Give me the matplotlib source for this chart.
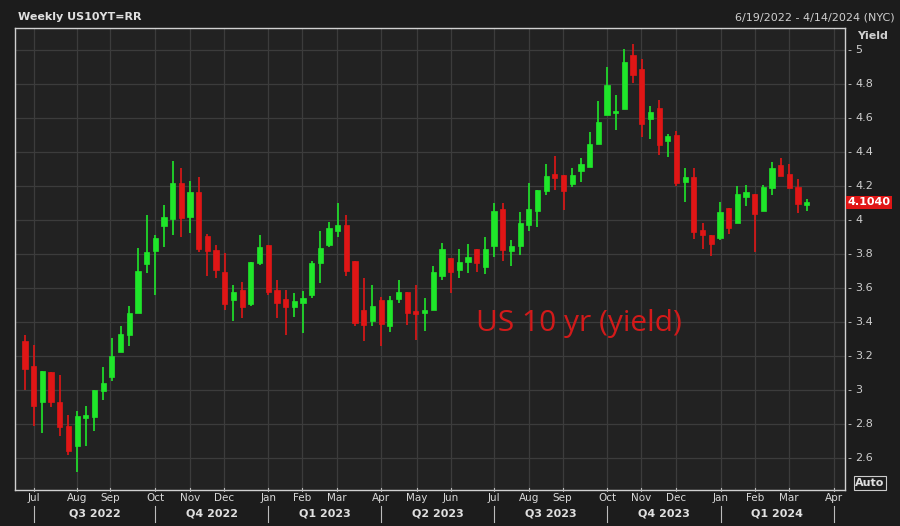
import matplotlib
matplotlib.use("Agg")
import matplotlib.pyplot as plt
from matplotlib.patches import Rectangle

opens = [3.285,3.141,2.926,3.102,2.926,2.788,2.671,2.836,2.840,2.992,3.073,3.222,3.320,3.451,3.739,3.820,3.965,4.006,4.220,4.020,
         4.167,3.906,3.824,3.696,3.526,3.588,3.506,3.749,3.853,3.585,3.534,3.487,3.510,3.559,3.745,3.853,3.937,3.971,3.759,3.471,
         3.406,3.526,3.377,3.534,3.575,3.461,3.451,3.467,3.671,3.775,3.706,3.751,3.830,3.722,3.847,4.065,3.820,3.849,3.971,4.055,
         4.173,4.269,4.265,4.212,4.290,4.314,4.445,4.618,4.632,4.651,4.971,4.886,4.594,4.661,4.465,4.500,4.226,4.251,3.941,3.912,
         3.892,4.069,3.984,4.137,4.151,4.053,4.186,4.323,4.268,4.196,4.088]
closes = [3.122,2.902,3.108,2.926,2.779,2.637,2.843,2.851,3.000,3.039,3.196,3.330,3.451,3.702,3.810,3.892,4.016,4.220,4.010,4.167,
          3.828,3.820,3.706,3.504,3.573,3.485,3.755,3.839,3.573,3.510,3.487,3.520,3.539,3.749,3.834,3.951,3.971,3.700,3.396,3.383,
          3.496,3.387,3.526,3.575,3.455,3.447,3.471,3.696,3.828,3.691,3.751,3.781,3.746,3.828,4.053,3.824,3.847,3.981,4.065,4.177,
          4.259,4.245,4.173,4.265,4.330,4.447,4.578,4.794,4.637,4.931,4.853,4.563,4.637,4.441,4.494,4.220,4.255,3.927,3.912,3.859,
          4.049,3.951,4.153,4.167,4.035,4.196,4.304,4.258,4.186,4.094,4.104]
highs = [3.324,3.265,3.108,3.102,3.088,2.853,2.873,2.906,3.000,3.133,3.304,3.373,3.494,3.834,4.030,3.912,4.088,4.349,4.304,4.232,
         4.251,3.918,3.853,3.808,3.618,3.637,3.755,3.912,3.853,3.647,3.588,3.569,3.579,3.759,3.936,3.985,4.098,4.030,3.759,3.657,
         3.618,3.549,3.553,3.647,3.575,3.618,3.540,3.726,3.863,3.775,3.828,3.859,3.830,3.898,4.102,4.098,3.879,4.049,4.220,4.177,
         4.330,4.377,4.265,4.304,4.363,4.520,4.700,4.902,4.735,5.004,5.035,4.945,4.673,4.706,4.506,4.526,4.304,4.304,3.980,3.912,
         4.108,4.069,4.202,4.206,4.151,4.206,4.339,4.362,4.329,4.239,4.123]
lows = [3.000,2.785,2.745,2.898,2.730,2.618,2.514,2.671,2.759,2.941,3.049,3.259,3.259,3.451,3.687,3.559,3.843,3.912,3.898,3.926,
        3.814,3.671,3.657,3.471,3.406,3.422,3.496,3.735,3.559,3.422,3.324,3.426,3.337,3.539,3.628,3.843,3.898,3.671,3.377,3.285,
        3.373,3.255,3.343,3.510,3.383,3.295,3.349,3.467,3.647,3.569,3.657,3.687,3.696,3.681,3.781,3.761,3.730,3.795,3.932,3.961,
        4.147,4.177,4.059,4.196,4.226,4.314,4.445,4.618,4.529,4.651,4.808,4.486,4.475,4.382,4.369,4.200,4.104,3.886,3.827,3.788,
        3.883,3.918,3.984,4.082,3.814,4.053,4.147,4.258,4.186,4.043,4.054]
month_labels = ["Jul","Aug","Sep","Oct","Nov","Dec","Jan","Feb","Mar","Apr","May","Jun",
                "Jul","Aug","Sep","Oct","Nov","Dec","Jan","Feb","Mar","Apr"]
month_pos = [1.0,6.0,9.8,15.0,19.0,22.9,28.0,31.9,35.9,41.0,45.1,49.0,54.0,58.0,61.9,67.0,70.9,74.9,80.1,84.0,87.9,93.1]
quarter_labels = ["Q3 2022","Q4 2022","Q1 2023","Q2 2023","Q3 2023","Q4 2023","Q1 2024"]
yticks = [2.6,2.8,3.0,3.2,3.4,3.6,3.8,4.0,4.2,4.4,4.6,4.8,5.0]

BG = "#1c1c1c"
fig = plt.figure(figsize=(9, 5.26), dpi=100, facecolor=BG)
ax = fig.add_axes([15/900, 1-490/526, 830/900, 462/526], facecolor="#222222")
x0 = -1.15; x1 = 94.4
ax.set_xlim(x0, x1)
ax.set_ylim(2.41, 5.13)
for s in ax.spines.values():
    s.set_color("#d0d0d0"); s.set_linewidth(1)
ax.set_yticks(yticks)
ax.set_xticks(month_pos)
ax.grid(True, color="#3c3c3c", linewidth=0.9)
ax.set_axisbelow(True)
ax.tick_params(axis="both", length=0, labelbottom=False, labelleft=False)

up, dn = "#1fe62a", "#e01616"
w = 0.6
for i, (o, c, h, l) in enumerate(zip(opens, closes, highs, lows)):
    col = up if c >= o else dn
    ax.vlines(i, l, h, color=col, linewidth=1.2, zorder=2)
    bot = min(o, c); ht = max(abs(c - o), 0.008)
    ax.add_patch(Rectangle((i - w/2, bot), w, ht, facecolor=col, edgecolor=col, linewidth=0.5, zorder=3))

for v in yticks:
    ax.text(1.003, v, "-", transform=ax.get_yaxis_transform(), color="#cfcfcf", fontsize=8, va="center")
    ax.text(1.012, v, ("%g" % v), transform=ax.get_yaxis_transform(), color="#cfcfcf", fontsize=8, va="center")
fig.text(857/900, 1-36/526, "Yield", color="#cfcfcf", fontsize=8, fontweight="bold", va="center")
ax.text(1.003, closes[-1], "4.1040", transform=ax.get_yaxis_transform(), color="white", fontsize=8,
        fontweight="bold", va="center", bbox=dict(boxstyle="square,pad=0.12", fc="#e01616", ec="none"))

ax.text(0.555, 0.36, "US 10 yr (yield)", transform=ax.transAxes, color="#d21a1a", fontsize=21.5,
        family="Open Sans", va="center")

fig.text(18/900, 1-17/526, "Weekly US10YT=RR", color="#e0e0e0", fontsize=8, fontweight="bold", va="center")
fig.text(895/900, 1-17/526, "6/19/2022 - 4/14/2024 (NYC)", color="#cfcfcf", fontsize=8, va="center", ha="right")

def fx(v):
    return (15 + (v - x0) / (x1 - x0) * 830) / 900
for lab, p in zip(month_labels, month_pos):
    fig.text(fx(p), 1-498/526, lab, color="#d8d8d8", fontsize=7.5, ha="center", va="center")
    fig.lines.append(plt.Line2D([fx(p), fx(p)], [1-491/526, 1-488/526], color="#bbbbbb", lw=0.8, transform=fig.transFigure))
q_edges = [1.0, 15.0, 28.0, 41.0, 54.0, 67.0, 80.1, 93.1]
for k, lab in enumerate(quarter_labels):
    a, b = q_edges[k], q_edges[k+1]
    fig.text(fx((a+b)/2), 1-514/526, lab, color="#e0e0e0", fontsize=8, fontweight="bold", ha="center", va="center")
for e in q_edges:
    fig.lines.append(plt.Line2D([fx(e), fx(e)], [1-506/526, 1-522/526], color="#bbbbbb", lw=0.8, transform=fig.transFigure))
fig.text(870/900, 1-483/526, "Auto", color="#e0e0e0", fontsize=8, fontweight="bold", ha="center", va="center",
         bbox=dict(boxstyle="square,pad=0.15", fc=BG, ec="#cccccc", lw=0.8))

fig.savefig("out.png", dpi=100, facecolor=BG)
